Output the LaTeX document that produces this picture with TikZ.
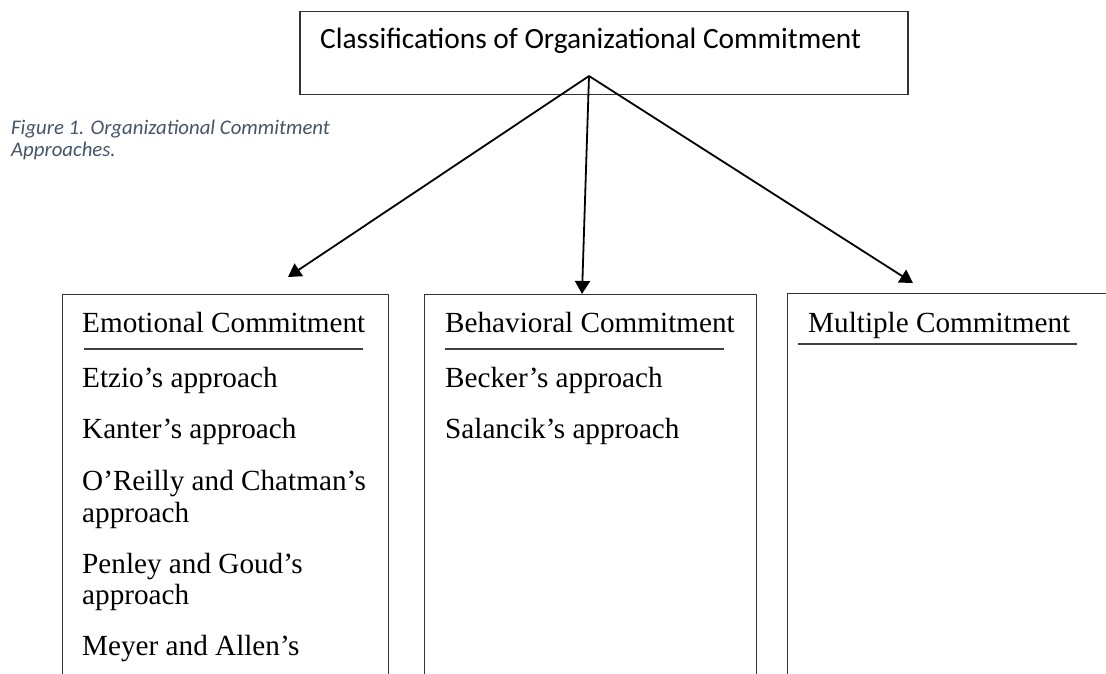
\documentclass[tikz,border=0pt]{standalone}
\usepackage{fontspec}
\setmainfont{Liberation Serif}
\newfontfamily\calibri{Carlito}
\usetikzlibrary{arrows.meta, positioning}

\definecolor{captionblue}{HTML}{44546A}

\begin{document}
\begin{tikzpicture}[x=1pt, y=-1pt,
    outline/.style={draw=black!80, line width=1.3pt, inner sep=0pt, anchor=north west},
    heading/.style={anchor=base west, inner sep=0pt, font=\fontsize{29.2}{32}\selectfont},
    entry/.style={anchor=base west, inner sep=0pt, font=\fontsize{29.2}{32}\selectfont},
    rule/.style={draw=black!75, line width=1.3pt},
    link/.style={-{Triangle[length=13pt, width=15pt]}, line width=1.8pt}]
    \useasboundingbox (0,0) rectangle (1106,674);
    \clip (0,0) rectangle (1106,674);

    % caption (base is the last line)
    \node[anchor=base west, inner sep=0pt, align=left, text=captionblue,
        font=\calibri\itshape\fontsize{20.8}{22.5}\selectfont] (caption) at (11,157)
        {Figure 1. Organizational Commitment\\Approaches.};

    % root box
    \node[outline, line width=1.5pt, minimum width=608pt, minimum height=83pt] (root) at (299,11) {};
    \node[anchor=base west, inner sep=0pt, font=\calibri\fontsize{29.4}{34}\selectfont] (roottitle) at (320,49)
        {Classifications of Organizational Commitment};

    % the three columns (they run on past the bottom edge)
    \node[outline, minimum width=326pt, minimum height=420pt] (emo) at (62,294) {};
    \node[outline, minimum width=332pt, minimum height=420pt] (beh) at (424,294) {};
    \node[outline, minimum width=360pt, minimum height=420pt] (mul) at (787,293) {};

    \node[heading] (emotitle) at (82,332) {Emotional Commitment};
    \node[heading] (behtitle) at (445,332) {Behavioral Commitment};
    \node[heading] (multitle) at (808,332) {Multiple Commitment};

    \draw[rule] (84,349) -- (363,349);
    \draw[rule] (445,349) -- (724,349);
    \draw[rule] (798,344) -- (1077,344);

    \foreach \y/\txt in {387/{Etzio’s approach}, 438/{Kanter’s approach},
        490/{O’Reilly and Chatman’s}, 522/{approach},
        573/{Penley and Goud’s}, 604/{approach}, 655/{Meyer and Allen’s}}
        \node[entry] (emo-\y) at (82,\y) {\txt};

    \foreach \y/\txt in {387/{Becker’s approach}, 438/{Salancik’s approach}}
        \node[entry] (beh-\y) at (445,\y) {\txt};

    % arrows from the root
    \coordinate (apex) at (589,76);
    \coordinate (emotip) at (288,277);
    \coordinate (behtip) at (582,294);
    \coordinate (multip) at (913,283);
    \draw[link] (apex) -- (emotip);
    \draw[link] (apex) -- (behtip);
    \draw[link] (apex) -- (multip);
\end{tikzpicture}
\end{document}
